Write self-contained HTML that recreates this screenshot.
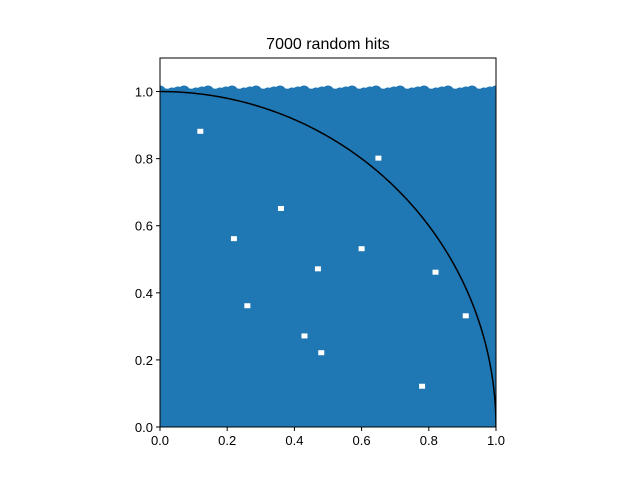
<!DOCTYPE html>
<html><head><meta charset="utf-8"><style>
html,body{margin:0;padding:0;background:#fff;}
svg{display:block;font-family:"Liberation Sans","DejaVu Sans",sans-serif;}
</style></head><body>
<svg id="chart" width="640" height="480" viewBox="0 0 640 480">
<rect width="640" height="480" fill="#fff"/>
<text x="328" y="49" text-anchor="middle" font-size="16">7000 random hits</text>
<defs><clipPath id="clip"><rect x="160" y="58" width="336" height="369"/></clipPath></defs>
<g id="plot" clip-path="url(#clip)"></g>
<g id="axes"></g>
</svg>
<script>
const xTicks = [0.0, 0.2, 0.4, 0.6, 0.8, 1.0];
const yTicks = [0.0, 0.2, 0.4, 0.6, 0.8, 1.0];
const xTickLabels = ["0.0", "0.2", "0.4", "0.6", "0.8", "1.0"];
const yTickLabels = ["0.0", "0.2", "0.4", "0.6", "0.8", "1.0"];
const hitCount = [7000];
const hitRange = [0, 1];
const gapX = [0.22, 0.26, 0.47, 0.60, 0.78, 0.82, 0.48, 0.12, 0.65, 0.43, 0.91, 0.36];
const gapY = [0.56, 0.36, 0.47, 0.53, 0.12, 0.46, 0.22, 0.88, 0.80, 0.27, 0.33, 0.65];

const X0=160, X1=496, Y0=427, Y1=58, YMAX=1.1;
const sx = v => X0 + v*(X1-X0);
const sy = v => Y0 - v/YMAX*(Y0-Y1);
const NS="http://www.w3.org/2000/svg";
const plot=document.getElementById('plot'), axes=document.getElementById('axes');
function mk(tag, attrs, parent){const e=document.createElementNS(NS,tag);for(const k in attrs)e.setAttribute(k,attrs[k]);parent.appendChild(e);return e;}

const r=6;
const area=mk('rect',{x:sx(hitRange[0])-r,y:sy(hitRange[1])+3,width:sx(hitRange[1])-sx(hitRange[0])+2*r,height:sy(hitRange[0])-sy(hitRange[1])+r,fill:'#1f77b4'},plot);


for(let i=0;i<=56;i++){
  const v=i/56;
  const c=mk('circle',{cx:sx(v),cy:sy(hitRange[1])+((i*7)%4),r:r,fill:'#1f77b4'},plot);
  
  
}
for(let i=0;i<gapX.length;i++){
  const g=mk('rect',{x:sx(gapX[i])-3,y:sy(gapY[i])-3,width:6,height:5,fill:'#fff'},plot);
  
  
}
let d='';
for(let i=0;i<=200;i++){const t=i/200*Math.PI/2;const x=Math.cos(t),y=Math.sin(t);d+=(i?'L':'M')+sx(x).toFixed(2)+','+sy(y).toFixed(2);}
const arc=mk('path',{d:d,fill:'none',stroke:'#000','stroke-width':1.5},plot);



const fr=mk('rect',{x:X0,y:Y1,width:X1-X0,height:Y0-Y1,fill:'none',stroke:'#000','stroke-width':1},axes);


xTicks.forEach((v,i)=>{
  mk('line',{x1:sx(v),x2:sx(v),y1:Y0,y2:Y0+4,stroke:'#000'},axes);
  const t=mk('text',{x:sx(v),y:Y0+18,'text-anchor':'middle','font-size':13},axes);
  t.textContent=xTickLabels[i];
  
  
});
yTicks.forEach((v,i)=>{
  mk('line',{x1:X0-4,x2:X0,y1:sy(v),y2:sy(v),stroke:'#000'},axes);
  const t=mk('text',{x:X0-7,y:sy(v)+5,'text-anchor':'end','font-size':13},axes);
  t.textContent=yTickLabels[i];
  
  
});
</script>
</body></html>
